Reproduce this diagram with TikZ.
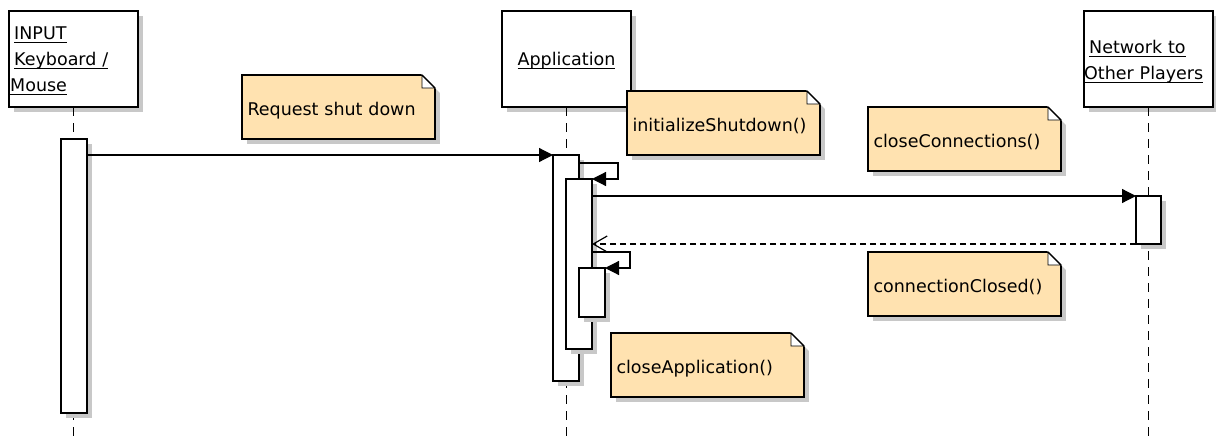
\documentclass[tikz,border=0pt]{standalone}
\usepackage{fontspec}
\setmainfont{DejaVu Sans}
\usetikzlibrary{arrows.meta, calc, shadows}
\definecolor{NoteFill}{RGB}{255,226,176}
\definecolor{ShadowGray}{RGB}{200,200,200}
\newlength\ulwidth
\newcommand{\ulabel}[1]{\leavevmode\settowidth{\ulwidth}{#1}\rlap{\rule[-4pt]{\ulwidth}{1pt}}#1}
\tikzset{
    boxshadow/.style={drop shadow={shadow xshift=5pt, shadow yshift=-5pt, fill=ShadowGray, opacity=1}},
    lifebox/.style={draw, line width=1.2pt, fill=white, minimum width=129pt, minimum height=96pt, inner sep=0pt, outer sep=0pt, boxshadow},
    headlabel/.style={anchor=base west, inner sep=0pt, text width=125pt, align=left},
    activation/.style={draw, line width=1.2pt, fill=white, minimum width=26pt, inner sep=0pt, outer sep=0pt, anchor=north west, boxshadow},
    note/.style={draw, line width=1.2pt, fill=NoteFill, minimum width=193pt, minimum height=64pt, text width=182pt, inner xsep=5.5pt, inner ysep=0pt, outer sep=0pt, align=left, text height=16pt, text depth=0pt, anchor=north west, boxshadow},
    lifeline/.style={line width=1.2pt, dash pattern=on 9pt off 7pt},
    msg/.style={line width=1.2pt, -{Triangle[length=14pt, width=14pt]}},
    reply/.style={line width=1.2pt, dash pattern=on 6pt off 4pt, -{Straight Barb[length=14pt, width=16pt]}}
}

\begin{document}
\begin{tikzpicture}[x=1pt, y=-1pt, font=\fontsize{17.5}{26}\selectfont]
    \useasboundingbox (0,0) rectangle (1216,439);
    \coordinate (bottom) at (0,439);

    % Lifeline heads
    \node[lifebox] (input) at (73.5,59) {};
    \node[lifebox] (app) at (566.5,59) {};
    \node[lifebox] (net) at (1148.5,59) {};
    \node[headlabel] (inputlbl) at ($(input.north west)+(5,28)$) {\ulabel{INPUT}\\\ulabel{Keyboard /}\\\hspace*{-4pt}\ulabel{Mouse}};
    \node[anchor=base, inner sep=0pt] (applbl) at ($(app.north)+(0,54)$) {\ulabel{Application}};
    \node[headlabel] (netlbl) at ($(net.north west)+(5,42)$) {\ulabel{Network to}\\\hspace*{-5pt}\ulabel{Other Players}};

    \foreach \h in {input, app, net}
        \draw[lifeline] (\h.south) -- (\h.south |- bottom);

    % Activation bars
    \node[activation, minimum height=274pt] (inact) at (61,139) {};
    \node[activation, minimum height=226pt] (appouter) at (553,155) {};
    \node[activation, minimum height=170pt] (appinit) at (566,179) {};
    \node[activation, minimum height=49pt] (appclose) at (579,268) {};
    \node[activation, minimum width=25pt, minimum height=48pt] (netact) at (1136,196) {};

    % Messages
    \draw[msg] (inact.east |- appouter.north) -- (appouter.north west);
    \draw[msg] ($(appouter.north east)+(0,8)$) -- ++(39,0) |- (appinit.north east);
    \draw[msg] (appinit.east |- netact.north west) -- (netact.north west);
    \draw[reply] (netact.south west) -- (appinit.east |- netact.south west);
    \draw[msg] ($(appinit.east |- appclose.north)+(0,-16)$) -- ++(38,0) |- (appclose.north east);

    % Notes
    \node[note] (reqnote) at (242,75) {Request shut down};
    \node[note] (initnote) at (627,91) {initializeShutdown()};
    \node[note] (connote) at (868,107) {closeConnections()};
    \node[note] (closednote) at (868,252) {connectionClosed()};
    \node[note] (appnote) at (611,333) {closeApplication()};

    % folded corners
    \foreach \n in {reqnote, initnote, connote, closednote, appnote} {
        \fill[white] ($(\n.north east)+(-14,-1)$) -- ($(\n.north east)+(6,-1)$) -- ($(\n.north east)+(6,19)$) -- cycle;
        \filldraw[fill=white, line width=0.8pt] ($(\n.north east)+(-13,0)$) |- ($(\n.north east)+(0,13)$) -- cycle;
        \draw[line width=1.2pt] ($(\n.north east)+(-13,0)$) -- ($(\n.north east)+(0,13)$);
    }
\end{tikzpicture}
\end{document}
